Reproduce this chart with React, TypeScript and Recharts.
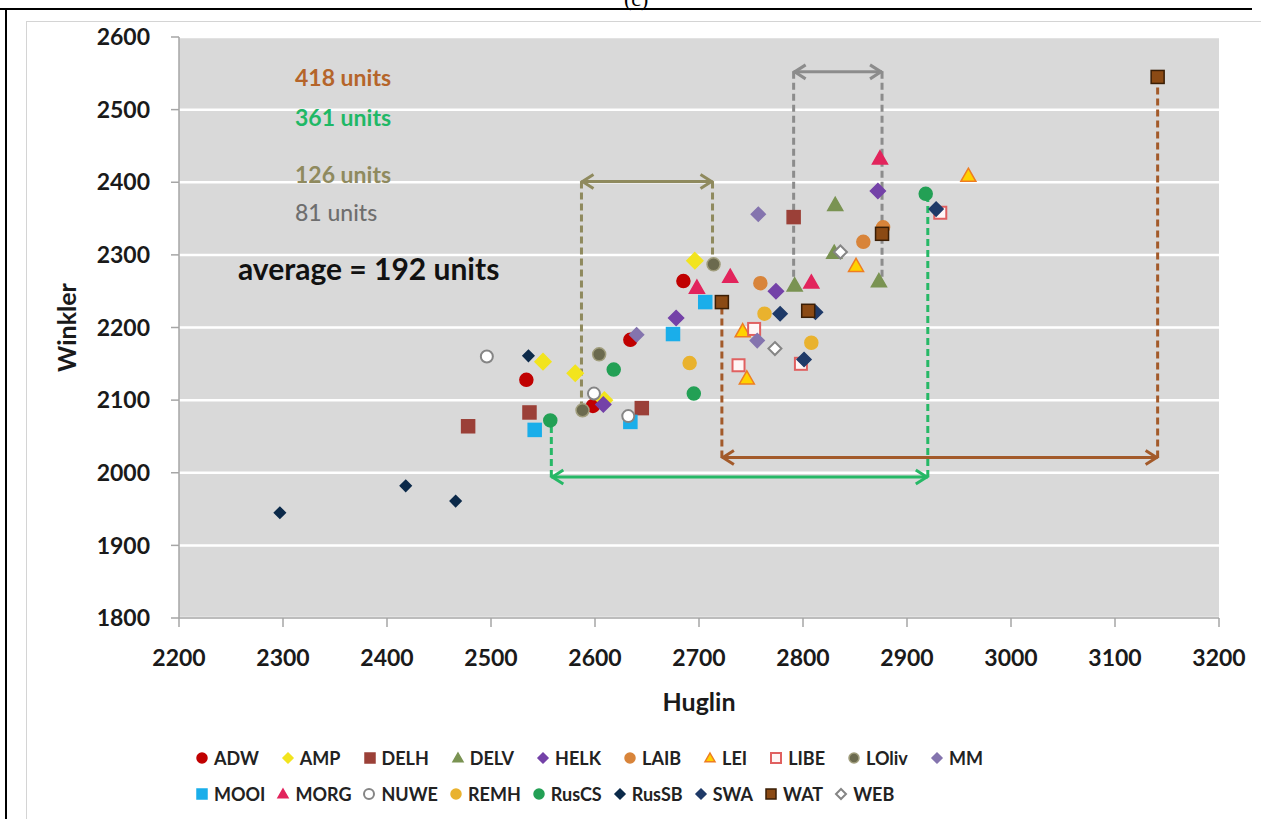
import {
  ScatterChart,
  Scatter,
  XAxis,
  YAxis,
  CartesianGrid,
  ReferenceLine,
  Legend,
  Label,
} from 'recharts';

type Pt = [number, number];

// Huglin (x) / Winkler (y) pairs per site
const ADW: Pt[] = [[2534, 2128], [2598, 2092], [2634, 2183], [2685, 2264]];
const AMP: Pt[] = [[2550, 2153], [2581, 2137], [2609, 2100], [2696, 2292]];
const DELH: Pt[] = [[2478, 2064], [2537, 2083], [2645, 2089], [2791, 2352]];
const DELV: Pt[] = [[2792, 2258], [2830, 2303], [2831, 2369], [2873, 2264]];
const HELK: Pt[] = [[2608, 2094], [2678, 2213], [2774, 2250], [2872, 2388]];
const LAIB: Pt[] = [[2759, 2261], [2858, 2318], [2877, 2338]];
const LEI: Pt[] = [[2742, 2195], [2746, 2130], [2851, 2285], [2959, 2409]];
const LIBE: Pt[] = [[2738, 2148], [2753, 2198], [2798, 2150], [2932, 2358]];
const LOLIV: Pt[] = [[2588, 2086], [2604, 2163], [2714, 2287]];
const MM: Pt[] = [[2640, 2190], [2756, 2182], [2757, 2356]];
const MOOI: Pt[] = [[2542, 2059], [2634, 2070], [2675, 2191], [2706, 2235]];
const MORG: Pt[] = [[2698, 2255], [2730, 2270], [2808, 2262], [2874, 2433]];
const NUWE: Pt[] = [[2496, 2160], [2599, 2109], [2632, 2078]];
const REMH: Pt[] = [[2691, 2151], [2763, 2219], [2808, 2179]];
const RUSCS: Pt[] = [[2557, 2072], [2618, 2142], [2695, 2109], [2918, 2384]];
const RUSSB: Pt[] = [[2297, 1945], [2418, 1982], [2466, 1961], [2536, 2161]];
const SWA: Pt[] = [[2778, 2219], [2801, 2156], [2812, 2221], [2928, 2363]];
const WAT: Pt[] = [[2722, 2235], [2805, 2223], [2876, 2329], [3141, 2545]];
const WEB: Pt[] = [[2773, 2171], [2836, 2304]];

const X_TICKS = [2200, 2300, 2400, 2500, 2600, 2700, 2800, 2900, 3000, 3100, 3200];
const Y_TICKS = [1800, 1900, 2000, 2100, 2200, 2300, 2400, 2500, 2600];

// ranges: [left x, right x, arrow y, left end y, right end y]
const RANGE_418 = [2722, 3141, 2021, 2235, 2545];
const RANGE_361 = [2558, 2920, 1994, 2072, 2384];
const RANGE_126 = [2587, 2713, 2401, 2086, 2287];
const RANGE_81 = [2791, 2876, 2552, 2258, 2264];

const FONT = "Lato, 'Open Sans', sans-serif";

const series = [
  { name: 'ADW', data: ADW, kind: 'circle', fill: '#C00000', stroke: '#C00000', r: 6.5 },
  { name: 'AMP', data: AMP, kind: 'diamond', fill: '#F2E41E', stroke: '#F2E41E', r: 8 },
  { name: 'DELH', data: DELH, kind: 'square', fill: '#9B4038', stroke: '#9B4038', r: 6.5 },
  { name: 'DELV', data: DELV, kind: 'triangle', fill: '#7A9352', stroke: '#7A9352', r: 7.5 },
  { name: 'HELK', data: HELK, kind: 'diamond', fill: '#7442A8', stroke: '#7442A8', r: 7.5 },
  { name: 'LAIB', data: LAIB, kind: 'circle', fill: '#D8843A', stroke: '#D8843A', r: 6.5 },
  { name: 'LEI', data: LEI, kind: 'triangle', fill: '#FFD200', stroke: '#EE7D22', r: 7.5 },
  { name: 'LIBE', data: LIBE, kind: 'square', fill: '#FFF6F6', stroke: '#E06060', r: 6 },
  { name: 'LOliv', data: LOLIV, kind: 'circle', fill: '#6B6A4E', stroke: '#A09D7C', r: 6.5 },
  { name: 'MM', data: MM, kind: 'diamond', fill: '#8474AE', stroke: '#8474AE', r: 7 },
  { name: 'MOOI', data: MOOI, kind: 'square', fill: '#1AAEEA', stroke: '#1AAEEA', r: 6.5 },
  { name: 'MORG', data: MORG, kind: 'triangle', fill: '#E2245C', stroke: '#E2245C', r: 7.5 },
  { name: 'NUWE', data: NUWE, kind: 'circle', fill: '#FFFFFF', stroke: '#858585', r: 6 },
  { name: 'REMH', data: REMH, kind: 'circle', fill: '#E9B22E', stroke: '#E9B22E', r: 6.5 },
  { name: 'RusCS', data: RUSCS, kind: 'circle', fill: '#23A055', stroke: '#23A055', r: 6.5 },
  { name: 'RusSB', data: RUSSB, kind: 'diamond', fill: '#0C2A4A', stroke: '#0C2A4A', r: 5.5 },
  { name: 'SWA', data: SWA, kind: 'diamond', fill: '#1F3A68', stroke: '#1F3A68', r: 7 },
  { name: 'WAT', data: WAT, kind: 'square', fill: '#8B4A14', stroke: '#3A1E05', r: 6.5 },
  { name: 'WEB', data: WEB, kind: 'diamond', fill: '#FFFFFF', stroke: '#858585', r: 6.5 },
];

const LEGEND_ROWS = [
  ['ADW', 'AMP', 'DELH', 'DELV', 'HELK', 'LAIB', 'LEI', 'LIBE', 'LOliv', 'MM'],
  ['MOOI', 'MORG', 'NUWE', 'REMH', 'RusCS', 'RusSB', 'SWA', 'WAT', 'WEB'],
];
const LEGEND_GAPS = [22, 11];

const Marker = ({ cx, cy, kind, fill, stroke, r }: any) => {
  const sw = fill === '#FFFFFF' || fill === '#FFF6F6' ? 2 : 1.5;
  if (kind === 'circle') return <circle cx={cx} cy={cy} r={r} fill={fill} stroke={stroke} strokeWidth={sw} />;
  if (kind === 'square')
    return <rect x={cx - r} y={cy - r} width={r * 2} height={r * 2} fill={fill} stroke={stroke} strokeWidth={sw} />;
  if (kind === 'diamond')
    return (
      <polygon
        points={`${cx},${cy - r} ${cx + r},${cy} ${cx},${cy + r} ${cx - r},${cy}`}
        fill={fill}
        stroke={stroke}
        strokeWidth={sw}
      />
    );
  return (
    <polygon
      points={`${cx},${cy - r} ${cx + r},${cy + r * 0.75} ${cx - r},${cy + r * 0.75}`}
      fill={fill}
      stroke={stroke}
      strokeWidth={sw}
    />
  );
};

// double-headed horizontal arrow
const arrowShape = (p: any) => {
  const { x1, y1, x2, y2, stroke, strokeWidth } = p;
  const h = 12;
  const w = 7;
  return (
    <g>
      <line x1={x1} y1={y1} x2={x2} y2={y2} stroke={stroke} strokeWidth={strokeWidth} />
      <polyline points={`${x1 + h},${y1 - w} ${x1 + 1},${y1} ${x1 + h},${y1 + w}`} fill="none" stroke={stroke} strokeWidth={strokeWidth} />
      <polyline points={`${x2 - h},${y2 - w} ${x2 - 1},${y2} ${x2 - h},${y2 + w}`} fill="none" stroke={stroke} strokeWidth={strokeWidth} />
    </g>
  );
};

const renderRange = (rng: number[], color: string, key: string) => [
  <ReferenceLine
    key={key + 'a'}
    segment={[{ x: rng[0], y: rng[2] }, { x: rng[1], y: rng[2] }]}
    stroke={color}
    strokeWidth={3}
    shape={arrowShape}
  />,
  <ReferenceLine
    key={key + 'l'}
    segment={[{ x: rng[0], y: rng[2] }, { x: rng[0], y: rng[3] }]}
    stroke={color}
    strokeWidth={3}
    strokeDasharray="7 4"
  />,
  <ReferenceLine
    key={key + 'r'}
    segment={[{ x: rng[1], y: rng[2] }, { x: rng[1], y: rng[4] }]}
    stroke={color}
    strokeWidth={3}
    strokeDasharray="7 4"
  />,
];

const renderLegend = () => (
  <div style={{ fontFamily: FONT, fontWeight: 700, fontSize: 18, color: '#222' }}>
    {LEGEND_ROWS.map((row, i) => (
      <div key={i} style={{ display: 'flex', height: 36, alignItems: 'center' }}>
        {row.map((name) => {
          const s = series.find((d) => d.name === name)!;
          return (
            <div key={name} style={{ display: 'flex', alignItems: 'center', marginRight: LEGEND_GAPS[i] }}>
              <svg width={14} height={14} style={{ marginRight: 5 }}>
                <Marker cx={7} cy={7} kind={s.kind} fill={s.fill} stroke={s.stroke} r={5} />
              </svg>
              <span>{name}</span>
            </div>
          );
        })}
      </div>
    ))}
  </div>
);

const tickStyle = { fontFamily: FONT, fontWeight: 700, fontSize: 23, fill: '#1a1a1a' };
const noteStyle = { fontFamily: FONT, fontWeight: 700, fontSize: 23 };

export default function App() {
  return (
    <div style={{ position: 'absolute', left: 0, top: 0, width: 1261, height: 819, background: '#fff', overflow: 'hidden' }}>
      <div style={{ position: 'absolute', left: 0, top: 8, width: 1252, height: 2, background: '#000' }} />
      <div style={{ position: 'absolute', left: 5, top: 8, width: 2, height: 811, background: '#000' }} />
      <div style={{ position: 'absolute', left: 26, top: 21, width: 1240, height: 1, background: '#d4d4d4' }} />
      <div style={{ position: 'absolute', left: 26, top: 21, width: 1, height: 800, background: '#d4d4d4' }} />
      <div style={{ position: 'absolute', left: 624, top: -14, fontFamily: 'serif', fontSize: 22 }}>(c)</div>
      <div style={{ position: 'absolute', left: 0, top: 0 }}>
        <ScatterChart width={1261} height={819} margin={{ top: 37, right: 42, bottom: 91, left: 39 }}>
          <CartesianGrid horizontal vertical={false} stroke="#FFFFFF" strokeWidth={2.5} fill="#D9D9D9" />
          <XAxis
            type="number"
            dataKey="x"
            domain={[2200, 3200]}
            ticks={X_TICKS}
            height={110}
            tick={tickStyle}
            tickSize={9}
            tickMargin={23}
            stroke="#A6A6A6"
            strokeWidth={1.5}
          >
            <Label
              value="Huglin"
              position="insideBottom"
              offset={17}
              style={{ fontFamily: FONT, fontWeight: 700, fontSize: 25, fill: '#1a1a1a' }}
            />
          </XAxis>
          <YAxis
            type="number"
            dataKey="y"
            domain={[1800, 2600]}
            ticks={Y_TICKS}
            width={140}
            tick={tickStyle}
            tickSize={8}
            tickMargin={21}
            stroke="#A6A6A6"
            strokeWidth={1.5}
          >
            <Label
              value="Winkler"
              angle={-90}
              position="insideLeft"
              offset={28}
              style={{ fontFamily: FONT, fontWeight: 700, fontSize: 25, fill: '#1a1a1a', textAnchor: 'middle' }}
            />
          </YAxis>
          <Legend
            verticalAlign="middle"
            align="center"
            content={renderLegend}
            wrapperStyle={{ top: 740, left: 195, width: 1040 }}
          />
          {renderRange(RANGE_126, '#8F8A5E', 'olive')}
          {renderRange(RANGE_81, '#8C8C8C', 'gray')}
          {renderRange(RANGE_418, '#A35A2A', 'brown')}
          {renderRange(RANGE_361, '#26B866', 'green')}
          {series.map((s) => (
            <Scatter
              key={s.name}
              name={s.name}
              data={s.data.map(([x, y]) => ({ x, y }))}
              isAnimationActive={false}
              shape={(p: any) => <Marker cx={p.cx} cy={p.cy} kind={s.kind} fill={s.fill} stroke={s.stroke} r={s.r} />}
            />
          ))}
          <g>
            <text x={295} y={86} fill="#B5652A" style={noteStyle}>418 units</text>
            <text x={295} y={126} fill="#1FB866" style={noteStyle}>361 units</text>
            <text x={295} y={183} fill="#8F8A5E" style={noteStyle}>126 units</text>
            <text x={295} y={221} fill="#6E6E6E" style={{ ...noteStyle, fontWeight: 500 }}>81 units</text>
            <text x={238} y={280} fill="#111" style={{ ...noteStyle, fontSize: 30 }}>average = 192 units</text>
          </g>
        </ScatterChart>
      </div>
    </div>
  );
}
